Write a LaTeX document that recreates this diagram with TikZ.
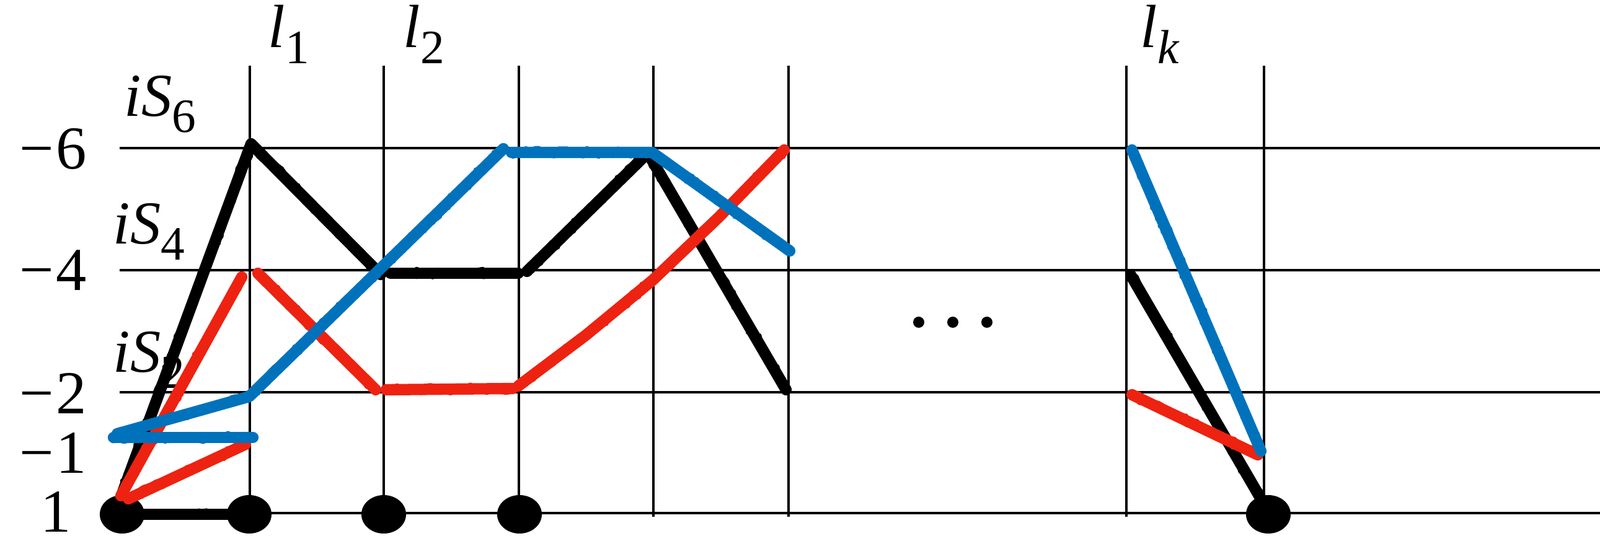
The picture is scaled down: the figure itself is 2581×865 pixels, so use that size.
\documentclass[tikz,border=0pt]{standalone}
\usepackage{fontspec}
\setmainfont{Liberation Serif}
\usetikzlibrary{decorations.pathmorphing}
\definecolor{cblue}{RGB}{0,114,188}
\definecolor{cred}{RGB}{238,34,17}
\newcommand{\sbs}[1]{\raisebox{-0.26em}{\fontsize{22}{22}\selectfont #1}}
\begin{document}
\begin{tikzpicture}[x=0.01cm,y=-0.01cm,
  grid/.style={line width=1.35pt},
  crayon/.style={line width=5.2pt, line cap=round, line join=round,
    postaction={draw, decorate, decoration={random steps,segment length=1.5pt,amplitude=1.8pt}, line width=2.4pt}},
  lab/.style={inner sep=0pt, font=\fontsize{28}{32}\selectfont},
  bigdot/.style={fill=black},
  ]
\useasboundingbox (0,0) rectangle (2581,865);
% grid
\foreach \y in {239,436,633} \draw[grid] (193,\y) -- (2581,\y);
\draw[grid] (197,828) -- (2581,828);
\foreach \x in {403,619,837,1054,1272,1817,2039} \draw[grid] (\x,106) -- (\x,834);
% labels
\node[lab] (m6) at (86,240) {−\kern1pt6};
\node[lab] (m4) at (86,436) {−\kern1pt4};
\node[lab] (m2) at (86,635) {−\kern1pt2};
\node[lab] (m1) at (86,731) {−\kern1pt1};
\node[lab] (p1) at (90,826) {1};
\node[lab, anchor=base west] (s6) at (200,188) {\textit{iS}\sbs{6}};
\node[lab, anchor=base west] (s4) at (182,394) {\textit{iS}\sbs{4}};
\node[lab, anchor=base west] (s2) at (182,601) {\textit{iS}\sbs{2}};
\node[lab, anchor=base west] (l1) at (432,77) {\textit{l}\sbs{1}};
\node[lab, anchor=base west] (l2) at (650,77) {\textit{l}\sbs{2}};
\node[lab, anchor=base west] (lk) at (1839,77) {\textit{l}\sbs{\textit{k}}};
% dots
\foreach \x/\n in {197/d1,402/d2,619/d3,838/d4,2046/d5}
  \fill[bigdot] (\x,830) ellipse [x radius=0.36cm, y radius=0.31cm];
\foreach \x in {1482,1537,1592} \fill (\x,520) circle [radius=0.09cm];
% black strokes
\draw[crayon] (198,794) -- (405,232) -- (614,443);
\draw[crayon] (630,441) -- (836,441);
\draw[crayon] (850,438) -- (1045,247) -- (1268,629);
\draw[crayon] (232,830) -- (372,830);
\draw[crayon] (1824,444) -- (2034,805);
% red strokes
\draw[crayon,cred] (195,800) -- (390,447);
\draw[crayon,cred] (207,805) -- (396,717);
\draw[crayon,cred] (416,441) -- (606,629);
\draw[crayon,cred] (623,629) -- (827,627);
\draw[crayon,cred] (836,623) -- (945,541) -- (1053,452) -- (1160,350) -- (1265,242);
\draw[crayon,cred] (1826,637) -- (2029,734);
% blue strokes
\draw[crayon,cblue] (189,700) -- (402,640) -- (812,240);
\draw[crayon,cblue] (183,706) -- (408,706);
\draw[crayon,cblue] (825,246) -- (1052,246) -- (1274,405);
\draw[crayon,cblue] (1826,242) -- (2034,728);
\end{tikzpicture}
\end{document}
